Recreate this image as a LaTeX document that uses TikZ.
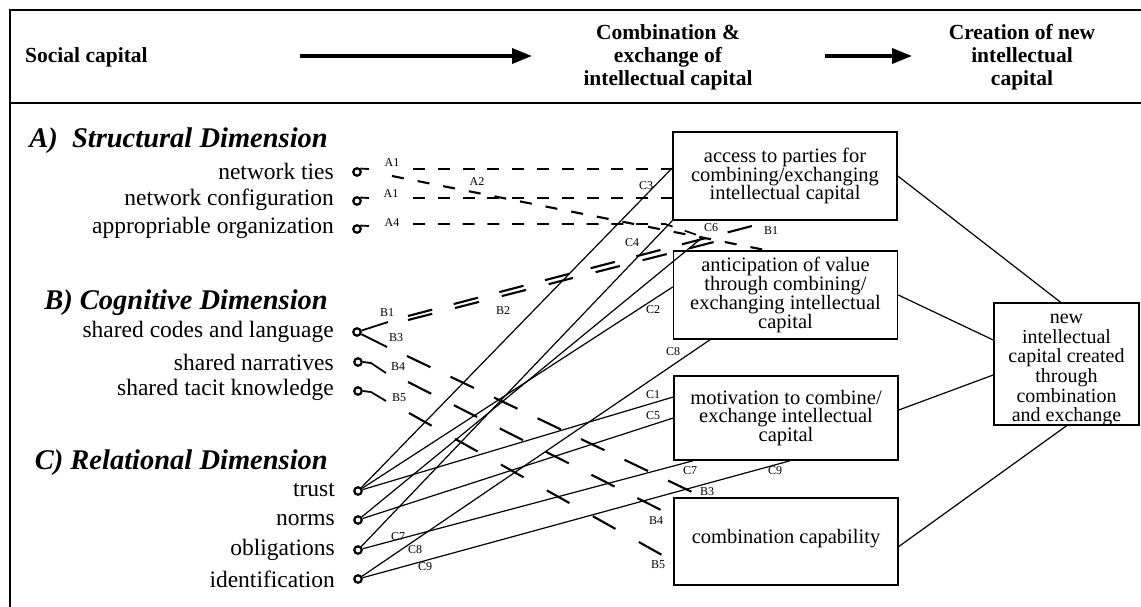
\documentclass[tikz,border=0pt]{standalone}
\usepackage{fontspec}
\setmainfont{Liberation Serif}
\usetikzlibrary{arrows.meta}
\newcommand\rsBoxFont{\fontsize{20.5}{18.8}\selectfont}
\newcommand\rsOutFont{\fontsize{20}{19.2}\selectfont}
\newcommand\rsItemFont{\fontsize{23.5}{26}\selectfont}
\newcommand\rsHeadFont{\fontsize{28.5}{30}\selectfont\bfseries\itshape}
\newcommand\rsLabFont{\fontsize{12}{13}\selectfont}
\newcommand\rsHdrFont{\fontsize{21.5}{23}\selectfont\bfseries}
\begin{document}
\begin{tikzpicture}[x=1pt,y=-1pt,
  box/.style={draw,line width=1.6pt,align=center,inner sep=0pt,font=\rsBoxFont},
  sig/.style={circle,draw,line width=2.2pt,inner sep=0pt,minimum size=7.5pt},
  item/.style={anchor=east,font=\rsItemFont,inner sep=0pt},
  dimhead/.style={anchor=east,font=\rsHeadFont,inner sep=0pt},
  lab/.style={font=\rsLabFont,inner sep=0pt},
  conn/.style={line width=1.2pt},
  tail/.style={line width=1.8pt},
  adash/.style={line width=1.7pt,dash pattern=on 12pt off 12.8pt},
  bdash/.style={line width=2.1pt},
  hdr/.style={font=\rsHdrFont,align=center,inner sep=0pt},
  bigarrow/.style={line width=3.6pt,-{Triangle[length=20pt,width=15pt]}},
  frame/.style={line width=1.8pt}
]
\useasboundingbox (0,0) rectangle (1141,607);
\fill[white] (0,0) rectangle (1141,607);
% frame
\coordinate (ftl) at (10,10);
\coordinate (ftr) at (1141,10);
\coordinate (fbl) at (10,607);
\coordinate (hl) at (10,103);
\coordinate (hr) at (1141,103);
\draw[frame] (ftr) -- (ftl) -- (fbl);
\draw[frame] (hl) -- (hr);
% header
\node[hdr,anchor=west] (soc) at (25,57) {Social capital};
\node[hdr] (comb) at (668,57) {Combination \&\\exchange of\\intellectual capital};
\node[hdr] (crea) at (1022,57) {Creation of new\\intellectual\\capital};
\coordinate (ar1s) at (300,56);
\coordinate (ar1e) at (532,56);
\coordinate (ar2s) at (825,56);
\coordinate (ar2e) at (912,56);
\draw[bigarrow] (ar1s) -- (ar1e);
\draw[bigarrow] (ar2s) -- (ar2e);
% headings
\node[dimhead] (hA) at (328,141) {A)\ \ Structural Dimension};
\node[dimhead] (hB) at (328,303) {B) Cognitive Dimension};
\node[dimhead] (hC) at (328,463) {C) Relational Dimension};
% items
\node[item] (iA1) at (334,171) {network ties};
\node[item] (iA2) at (334,200) {network configuration};
\node[item] (iA3) at (334,228) {appropriable organization};
\node[item] (iB1) at (334,332) {shared codes and language};
\node[item] (iB2) at (334,362) {shared narratives};
\node[item] (iB3) at (334,390) {shared tacit knowledge};
\node[item] (iC1) at (335,490) {trust};
\node[item] (iC2) at (335,520) {norms};
\node[item] (iC3) at (335,550) {obligations};
\node[item] (iC4) at (335,579) {identification};
% sigma dots
\node[sig] (sA1) at (357,172) {};
\node[sig] (sA2) at (357,201) {};
\node[sig] (sA3) at (357,229) {};
\node[sig] (sB1) at (357,332) {};
\node[sig] (sB2) at (358,362) {};
\node[sig] (sB3) at (358,391) {};
\node[sig] (sC1) at (358,491) {};
\node[sig] (sC2) at (358,520) {};
\node[sig] (sC3) at (358,550) {};
\node[sig] (sC4) at (358,579) {};
% boxes
\node[box,minimum width=224pt,minimum height=88pt] (box1) at (785,176)
  {access to parties for\\combining/exchanging\\intellectual capital};
\node[box,minimum width=224pt,minimum height=88pt] (box2) at (785.5,295)
  {anticipation of value\\through combining/\\exchanging intellectual\\capital};
\node[box,minimum width=224pt,minimum height=84pt] (box3) at (786,418)
  {motivation to combine/\\exchange intellectual\\capital};
\node[box,minimum width=224pt,minimum height=87pt,text height=13pt,text depth=10pt] (box4) at (786,541.5)
  {combination capability};
\node[box,font=\rsOutFont,minimum width=145pt,minimum height=122pt] (box5) at (1066.5,364)
  {\raisebox{-10pt}[0pt][0pt]{\begin{tabular}{@{}c@{}}new\\intellectual\\capital created\\through\\combination\\and exchange\end{tabular}}};
% boxes to outcome
\draw[conn] (box1.east) -- ([xshift=-6pt]box5.north);
\draw[conn] (box2.east) -- ([yshift=24pt]box5.west);
\draw[conn] ([yshift=8pt]box3.east) -- ([yshift=-11pt]box5.west);
\draw[conn] ([yshift=-5pt]box4.east) -- (box5.south);
% A tails and dashed lines
\coordinate (tA1) at (369,169);
\coordinate (tA2) at (369,198);
\coordinate (tA3) at (369,226);
\draw[tail] (sA1.north east) -- (tA1);
\draw[tail] (sA2.north east) -- (tA2);
\draw[tail] (sA3.north east) -- (tA3);
\node[lab] (lA1) at (392,163) {A1};
\node[lab] (lA1b) at (391,194) {A1};
\node[lab] (lA4) at (392,223) {A4};
\node[lab] (lA2) at (477,182) {A2};
\coordinate (dA1) at (413,169);
\coordinate (dA3) at (413,198);
\coordinate (dA4) at (413,224);
\coordinate (kA4) at (665,224);
\coordinate (c6pt) at (703,237);
\coordinate (dA2) at (392,176);
\coordinate (eA2) at (765,250);
\draw[adash] (dA1) -- (dA1 -| box1.west);
\draw[adash] (dA3) -- (dA3 -| box1.west);
\draw[adash] (dA4) -- (kA4) -- (c6pt);
\draw[adash,line width=2.1pt,dash pattern=on 12pt off 14.1pt] (dA2) -- (eA2);
% B tails
\coordinate (tB1) at (388,322);
\coordinate (tB3) at (387,347);
\coordinate (mB4) at (371,363);
\coordinate (tB4) at (386,373);
\coordinate (mB5) at (371,392);
\coordinate (tB5) at (386,401);
\draw[tail] (sB1) -- (tB1);
\draw[tail] (sB1) -- (tB3);
\draw[tail] (sB2.east) -- (mB4) -- (tB4);
\draw[tail] (sB3.east) -- (mB5) -- (tB5);
\node[lab] (lB1) at (387,313) {B1};
\node[lab] (lB3) at (396,338) {B3};
\node[lab] (lB4) at (398,367) {B4};
\node[lab] (lB5) at (399,398) {B5};
% B dashed
\coordinate (dB1) at (408,316);
\coordinate (eB1) at (752,226);
\coordinate (dB2) at (408,320);
\coordinate (eB2) at (714,242);
\coordinate (dB3) at (407,356);
\coordinate (eB3) at (692,492);
\coordinate (dB4) at (408,382);
\coordinate (eB4) at (661,510);
\coordinate (dB5) at (409,413);
\coordinate (eB5) at (662,555);
\draw[bdash,dash pattern=on 25pt off 22.2pt] (dB1) -- (eB1);
\draw[bdash,dash pattern=on 25pt off 23.4pt] (dB2) -- (eB2);
\draw[bdash,dash pattern=on 26pt off 22.2pt] (dB3) -- (eB3);
\draw[bdash,dash pattern=on 26pt off 25.4pt] (dB4) -- (eB4);
\draw[bdash,dash pattern=on 26pt off 26.7pt] (dB5) -- (eB5);
\node[lab] (lB1e) at (771,231) {B1};
\node[lab] (lB2) at (503,311) {B2};
\node[lab] (lB3e) at (707,492) {B3};
\node[lab] (lB4e) at (656,521) {B4};
\node[lab] (lB5e) at (658,565) {B5};
% C connectors
\draw[conn] (sC1) -- ([yshift=8pt]box1.west);
\draw[conn] (sC1) -- ([yshift=8pt]box2.west);
\draw[conn] (sC1) -- ([yshift=21pt]box3.west);
\draw[conn] (sC2) -- (c6pt);
\draw[conn] (sC2) -- (box3.west);
\draw[conn] (sC3) -- (box1.south west);
\draw[conn] (sC3) -- ([xshift=-93pt]box3.south);
\draw[conn] (sC4) -- ([xshift=-75.5pt]box2.south);
\draw[conn] (sC4) -- ([xshift=4pt]box3.south);
% C labels
\node[lab] (lC3) at (646,186) {C3};
\node[lab] (lC4) at (632,243) {C4};
\node[lab] (lC6) at (711,228) {C6};
\node[lab] (lC2) at (653,310) {C2};
\node[lab] (lC8) at (673,352) {C8};
\node[lab] (lC1) at (653,395) {C1};
\node[lab] (lC5) at (653,416) {C5};
\node[lab] (lC7) at (690,471) {C7};
\node[lab] (lC9) at (775,471) {C9};
\node[lab] (lC7s) at (398,537) {C7};
\node[lab] (lC8s) at (415,550) {C8};
\node[lab] (lC9s) at (425,567) {C9};
\end{tikzpicture}
\end{document}
